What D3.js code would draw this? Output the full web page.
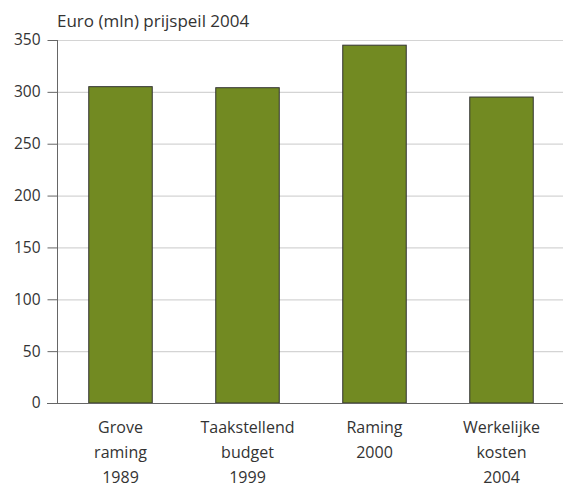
<!DOCTYPE html>
<html><head><meta charset="utf-8">
<script src="https://cdn.jsdelivr.net/npm/d3@7"></script>
<style>body{margin:0;background:#fff}</style>
</head><body>
<script>
const categories = [["Grove","raming","1989"],["Taakstellend","budget","1999"],["Raming","2000"],["Werkelijke","kosten","2004"]];
const values = [305, 304, 345, 295];
const yTicks = [0, 50, 100, 150, 200, 250, 300, 350];
const title = "Euro (mln) prijspeil 2004";

const W = 563, H = 488;
const svg = d3.select("body").append("svg").attr("width", W).attr("height", H);
const font = "'Open Sans', Lato, sans-serif";
const x = d3.scaleBand().domain(d3.range(values.length)).range([57, 565]).paddingInner(0.5).paddingOuter(0.25);
const y = d3.scaleLinear().domain([0, 350]).range([403, 40]);

// gridlines
svg.append("g").selectAll("line").data(yTicks.filter(d => d > 0)).join("line")
  .attr("x1", 57).attr("x2", W).attr("y1", d => y(d) + 0.5).attr("y2", d => y(d) + 0.5)
  .attr("stroke", "#d4d4d4").attr("stroke-width", 1.2);

// bars
svg.append("g").selectAll("rect").data(values).join("rect")
  .attr("x", (d, i) => x(i)).attr("width", x.bandwidth())
  .attr("y", d => y(d)).attr("height", d => y(0) - y(d))
  .attr("fill", "#728a22").attr("stroke", "#333").attr("stroke-width", 1);

// y axis
const yAxis = svg.append("g").attr("transform", "translate(57.5,0)")
  .call(d3.axisLeft(y).tickValues(yTicks).tickSize(10).tickPadding(7).tickFormat(d3.format("d")));
yAxis.select(".domain").attr("stroke", "#666").attr("d", "M0,40V403");
yAxis.selectAll(".tick line").attr("stroke", "#666");
yAxis.selectAll("text").attr("font-family", font).attr("font-size", 15.5).attr("fill", "#333");

// x axis line
svg.append("line").attr("x1", 47).attr("x2", W).attr("y1", y(0) + 0.5).attr("y2", y(0) + 0.5)
  .attr("stroke", "#666").attr("stroke-width", 1.2);

// category labels
const lab = svg.append("g").selectAll("text").data(categories).join("text")
  .attr("text-anchor", "middle").attr("font-family", font).attr("font-size", 16).attr("fill", "#333")
  .attr("x", (d, i) => x(i) + x.bandwidth() / 2).attr("y", 433);
lab.selectAll("tspan").data(d => d).join("tspan")
  .attr("x", function() { return d3.select(this.parentNode).attr("x"); })
  .attr("dy", (d, i) => i === 0 ? 0 : 25).text(d => d);

// title
svg.append("text").attr("x", 57).attr("y", 27).attr("font-family", font).attr("font-size", 17)
  .attr("fill", "#333").text(title);
</script>
</body></html>
